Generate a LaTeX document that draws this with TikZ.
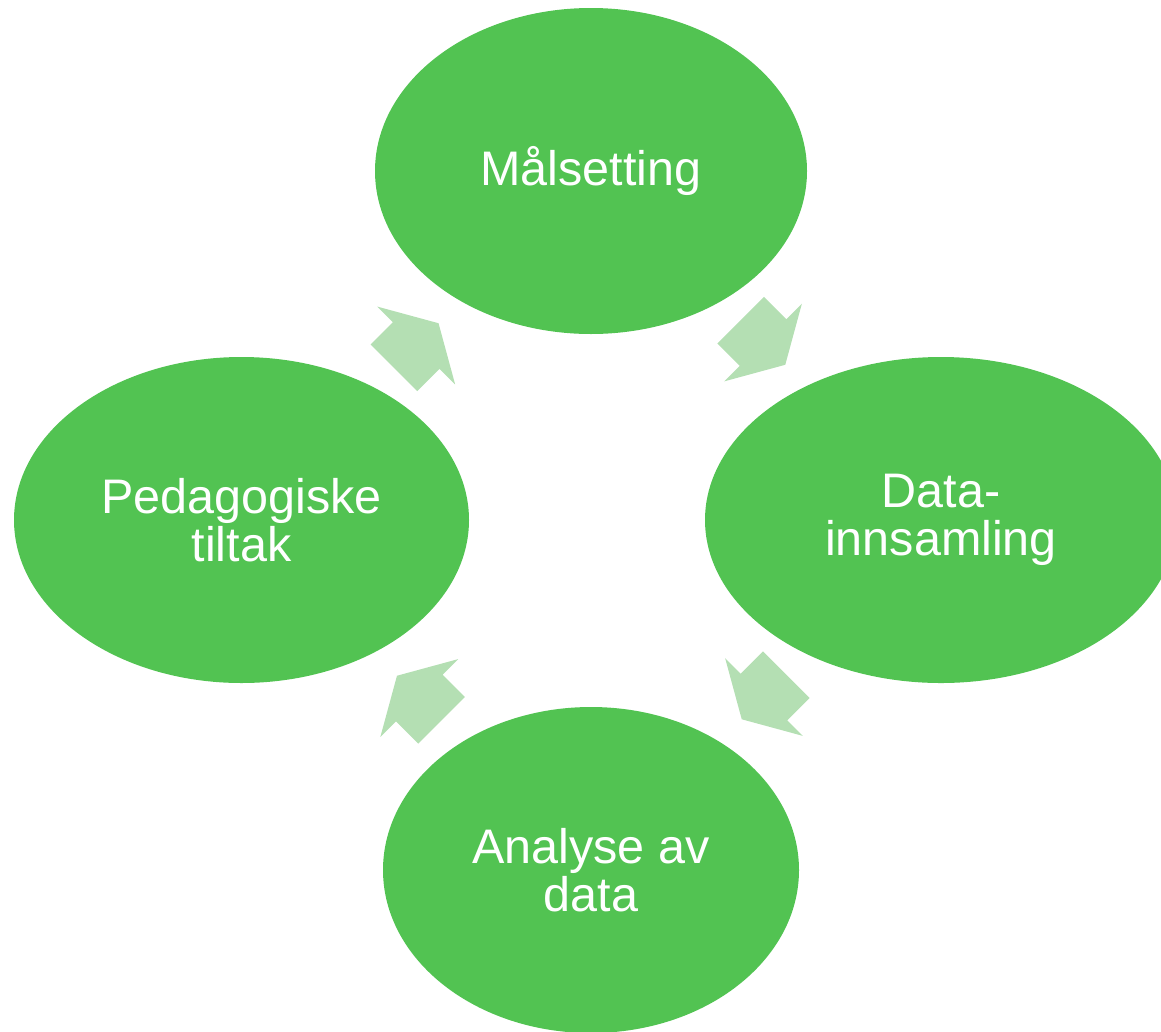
\documentclass[tikz,border=0pt]{standalone}
\usepackage{fontspec}
\setmainfont{Liberation Sans}
\usetikzlibrary{shapes.geometric,calc}
\definecolor{ellgreen}{RGB}{82,195,82}
\definecolor{arrgreen}{RGB}{180,223,179}
\tikzset{
  stage/.style={ellipse, fill=ellgreen, draw=none, inner sep=0pt, text=white,
    align=center, font=\fontsize{48.5}{47.5}\selectfont, minimum height=326pt},
  blockarrow/.pic={
    \fill[arrgreen] (-31.5pt,33pt) -- (0pt,33pt) -- (0pt,55pt) -- (31.5pt,0pt)
      -- (0pt,-55pt) -- (0pt,-33pt) -- (-31.5pt,-33pt) -- cycle;
  }
}
\begin{document}
\begin{tikzpicture}[x=1pt,y=-1pt]
\useasboundingbox (0,0) rectangle (1161,1031);
\clip (0,0) rectangle (1161,1031);
\node[stage, minimum width=432pt] (mal) at (591,171) {Målsetting};
\node[stage, minimum width=472pt] (data) at (941,520) {Data-\\innsamling};
\node[stage, minimum width=416pt] (anal) at (591,870) {Analyse av\\data};
\node[stage, minimum width=455pt] (ped) at (241.5,520) {Pedagogiske\\tiltak};
\pic[rotate=-45] at ($(mal)!0.5!(data)+(-3,-3)$) {blockarrow};
\pic[rotate=-135] at ($(data)!0.5!(anal)+(-2,2)$) {blockarrow};
\pic[rotate=135] at ($(anal)!0.5!(ped)+(3,3)$) {blockarrow};
\pic[rotate=45] at ($(ped)!0.5!(mal)$) {blockarrow};
\end{tikzpicture}
\end{document}
